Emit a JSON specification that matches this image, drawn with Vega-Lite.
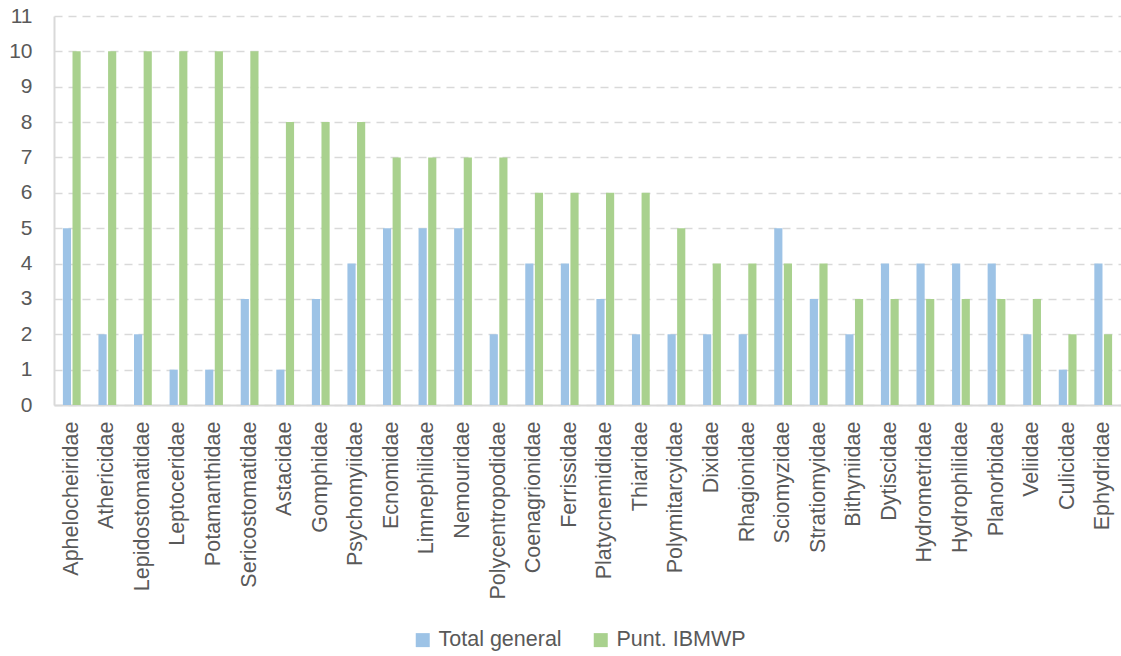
{
  "$schema": "https://vega.github.io/schema/vega-lite/v6.json",
  "autosize": {"type": "none"},
  "padding": {"left": 54, "top": 16, "right": 0, "bottom": 251},
  "width": 1067,
  "height": 389,
  "background": "white",
  "config": {
    "font": "Liberation Sans",
    "view": {"stroke": null}
  },
  "data": {
    "values": [
      {"familia": "Aphelocheiridae", "serie": "Total general", "valor": 5},
      {"familia": "Aphelocheiridae", "serie": "Punt. IBMWP", "valor": 10},
      {"familia": "Athericidae", "serie": "Total general", "valor": 2},
      {"familia": "Athericidae", "serie": "Punt. IBMWP", "valor": 10},
      {"familia": "Lepidostomatidae", "serie": "Total general", "valor": 2},
      {"familia": "Lepidostomatidae", "serie": "Punt. IBMWP", "valor": 10},
      {"familia": "Leptoceridae", "serie": "Total general", "valor": 1},
      {"familia": "Leptoceridae", "serie": "Punt. IBMWP", "valor": 10},
      {"familia": "Potamanthidae", "serie": "Total general", "valor": 1},
      {"familia": "Potamanthidae", "serie": "Punt. IBMWP", "valor": 10},
      {"familia": "Sericostomatidae", "serie": "Total general", "valor": 3},
      {"familia": "Sericostomatidae", "serie": "Punt. IBMWP", "valor": 10},
      {"familia": "Astacidae", "serie": "Total general", "valor": 1},
      {"familia": "Astacidae", "serie": "Punt. IBMWP", "valor": 8},
      {"familia": "Gomphidae", "serie": "Total general", "valor": 3},
      {"familia": "Gomphidae", "serie": "Punt. IBMWP", "valor": 8},
      {"familia": "Psychomyiidae", "serie": "Total general", "valor": 4},
      {"familia": "Psychomyiidae", "serie": "Punt. IBMWP", "valor": 8},
      {"familia": "Ecnomidae", "serie": "Total general", "valor": 5},
      {"familia": "Ecnomidae", "serie": "Punt. IBMWP", "valor": 7},
      {"familia": "Limnephilidae", "serie": "Total general", "valor": 5},
      {"familia": "Limnephilidae", "serie": "Punt. IBMWP", "valor": 7},
      {"familia": "Nemouridae", "serie": "Total general", "valor": 5},
      {"familia": "Nemouridae", "serie": "Punt. IBMWP", "valor": 7},
      {"familia": "Polycentropodidae", "serie": "Total general", "valor": 2},
      {"familia": "Polycentropodidae", "serie": "Punt. IBMWP", "valor": 7},
      {"familia": "Coenagrionidae", "serie": "Total general", "valor": 4},
      {"familia": "Coenagrionidae", "serie": "Punt. IBMWP", "valor": 6},
      {"familia": "Ferrissidae", "serie": "Total general", "valor": 4},
      {"familia": "Ferrissidae", "serie": "Punt. IBMWP", "valor": 6},
      {"familia": "Platycnemididae", "serie": "Total general", "valor": 3},
      {"familia": "Platycnemididae", "serie": "Punt. IBMWP", "valor": 6},
      {"familia": "Thiaridae", "serie": "Total general", "valor": 2},
      {"familia": "Thiaridae", "serie": "Punt. IBMWP", "valor": 6},
      {"familia": "Polymitarcyidae", "serie": "Total general", "valor": 2},
      {"familia": "Polymitarcyidae", "serie": "Punt. IBMWP", "valor": 5},
      {"familia": "Dixidae", "serie": "Total general", "valor": 2},
      {"familia": "Dixidae", "serie": "Punt. IBMWP", "valor": 4},
      {"familia": "Rhagionidae", "serie": "Total general", "valor": 2},
      {"familia": "Rhagionidae", "serie": "Punt. IBMWP", "valor": 4},
      {"familia": "Sciomyzidae", "serie": "Total general", "valor": 5},
      {"familia": "Sciomyzidae", "serie": "Punt. IBMWP", "valor": 4},
      {"familia": "Stratiomyidae", "serie": "Total general", "valor": 3},
      {"familia": "Stratiomyidae", "serie": "Punt. IBMWP", "valor": 4},
      {"familia": "Bithyniidae", "serie": "Total general", "valor": 2},
      {"familia": "Bithyniidae", "serie": "Punt. IBMWP", "valor": 3},
      {"familia": "Dytiscidae", "serie": "Total general", "valor": 4},
      {"familia": "Dytiscidae", "serie": "Punt. IBMWP", "valor": 3},
      {"familia": "Hydrometridae", "serie": "Total general", "valor": 4},
      {"familia": "Hydrometridae", "serie": "Punt. IBMWP", "valor": 3},
      {"familia": "Hydrophilidae", "serie": "Total general", "valor": 4},
      {"familia": "Hydrophilidae", "serie": "Punt. IBMWP", "valor": 3},
      {"familia": "Planorbidae", "serie": "Total general", "valor": 4},
      {"familia": "Planorbidae", "serie": "Punt. IBMWP", "valor": 3},
      {"familia": "Veliidae", "serie": "Total general", "valor": 2},
      {"familia": "Veliidae", "serie": "Punt. IBMWP", "valor": 3},
      {"familia": "Culicidae", "serie": "Total general", "valor": 1},
      {"familia": "Culicidae", "serie": "Punt. IBMWP", "valor": 2},
      {"familia": "Ephydridae", "serie": "Total general", "valor": 4},
      {"familia": "Ephydridae", "serie": "Punt. IBMWP", "valor": 2}
    ]
  },
  "mark": {"type": "bar"},
  "encoding": {
    "x": {
      "field": "familia",
      "type": "nominal",
      "sort": null,
      "title": null,
      "scale": {"paddingInner": 0.5, "paddingOuter": 0.25},
      "axis": {
        "labelAngle": -90,
        "labelFontSize": 21.5,
        "labelColor": "#595959",
        "labelPadding": 16,
        "ticks": false,
        "domainColor": "#D9D9D9",
        "domainWidth": 2,
        "labelOverlap": false,
        "labelBound": false
      }
    },
    "xOffset": {
      "field": "serie",
      "type": "nominal",
      "sort": ["Total general", "Punt. IBMWP"],
      "scale": {"paddingInner": 0.15}
    },
    "y": {
      "field": "valor",
      "type": "quantitative",
      "title": null,
      "scale": {"domain": [0, 11], "nice": false},
      "axis": {
        "values": [0, 1, 2, 3, 4, 5, 6, 7, 8, 9, 10, 11],
        "labelFontSize": 21,
        "labelColor": "#595959",
        "labelPadding": 22,
        "ticks": false,
        "domainColor": "#D9D9D9",
        "domainWidth": 2,
        "gridColor": "#D9D9D9",
        "gridDash": [8, 6],
        "gridWidth": 1.5
      }
    },
    "color": {
      "field": "serie",
      "type": "nominal",
      "sort": ["Total general", "Punt. IBMWP"],
      "scale": {"domain": ["Total general", "Punt. IBMWP"], "range": ["#9DC3E6", "#A9D18E"]},
      "legend": {
        "title": null,
        "orient": "none",
        "legendX": 358,
        "legendY": 613,
        "direction": "horizontal",
        "symbolType": "square",
        "symbolSize": 196,
        "symbolStrokeWidth": 0,
        "symbolOffset": 0,
        "labelOffset": 5,
        "labelFontSize": 21.5,
        "labelColor": "#595959",
        "columnPadding": 28
      }
    }
  }
}
